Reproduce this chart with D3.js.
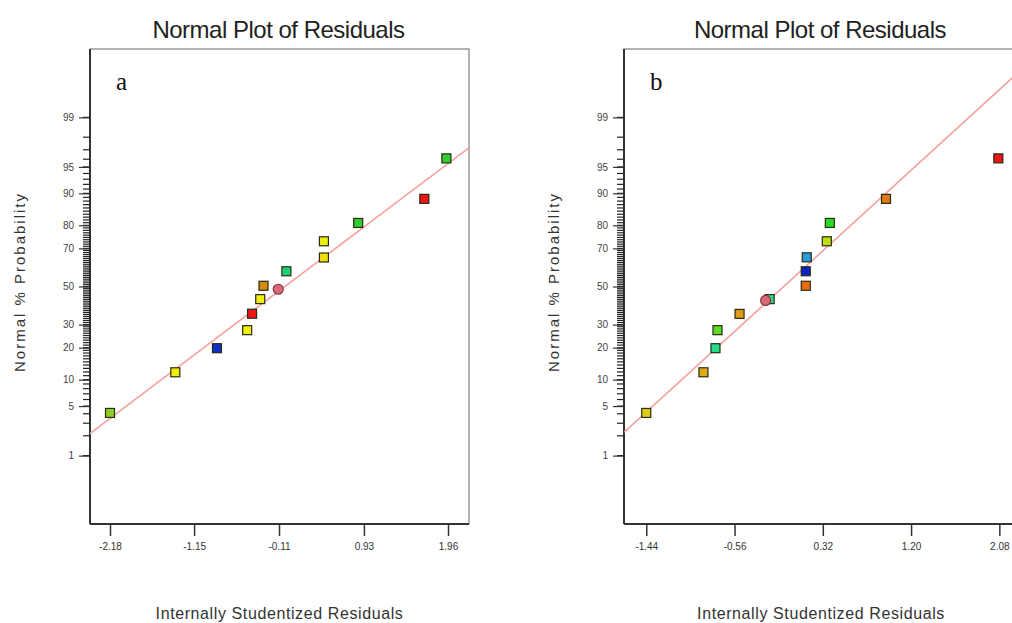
<!DOCTYPE html>
<html>
<head>
<meta charset="utf-8">
<script src="https://cdn.jsdelivr.net/npm/d3@7"></script>
<style>
  body { margin: 0; background: #fff; }
  svg { display: block; }
  text { font-family: "Liberation Sans", Arial, sans-serif; fill: #222; }
</style>
</head>
<body>
<svg id="chart" width="1012" height="623"></svg>
<script>
// residuals (x) and normal % probability (y)
let residA = [1.94, 1.67, 0.86, 0.44, 0.44, -0.02, -0.30, -0.12, -0.34, -0.44, -0.50, -0.87, -1.38, -2.18]
let probA  = [96.1, 88.6, 80.9, 73.3, 65.5, 58.3, 50.4, 48.5, 43.1, 35.4, 27.4, 19.8, 11.9, 4.1]
let colourA = ['#2fcf2f', '#ee1515', '#2fcf2f', '#eeee10', '#eedf10', '#1fcf75', '#d98a10', '#d86a78',
               '#eeee10', '#ee1515', '#eeee10', '#1030c8', '#eeee10', '#8ccf20']
let shapeA = ['s', 's', 's', 's', 's', 's', 's', 'c', 's', 's', 's', 's', 's', 's']

let residB = [2.07, 0.95, 0.39, 0.36, 0.16, 0.15, 0.15, -0.21, -0.25, -0.51, -0.73, -0.75, -0.87, -1.44]
let probB  = [96.1, 88.6, 80.9, 73.3, 65.6, 58.3, 50.4, 43.1, 42.4, 35.3, 27.4, 19.8, 11.9, 4.1]
let colourB = ['#ee1515', '#e07818', '#25dd25', '#bedd15', '#2a9ade', '#1020c8', '#ee6a15', '#25dd8a',
               '#d86a78', '#e09a18', '#5cdd25', '#25dd8a', '#e0aa18', '#ddcc15']
let shapeB = ['s', 's', 's', 's', 's', 's', 's', 's', 'c', 's', 's', 's', 's', 's']

// fitted line end points [residual, %]
let lineA = [[-2.43, 2.14], [2.22, 97.2]]
let lineB = [[-1.66, 2.25], [2.27, 99.84]]

let xTicksA = [-2.18, -1.15, -0.11, 0.93, 1.96]
let xTicksB = [-1.44, -0.56, 0.32, 1.20, 2.08]
let yTicks = [1, 5, 10, 20, 30, 50, 70, 80, 90, 95, 99]

// inverse normal cdf (Acklam)
function probit(p) {
  let a = [-39.69683028665376, 220.9460984245205, -275.9285104469687, 138.3577518672690, -30.66479806614716, 2.506628277459239]
  let b = [-54.47609879822406, 161.5858368580409, -155.6989798598866, 66.80131188771972, -13.28068155288572]
  let c = [-0.007784894002430293, -0.3223964580411365, -2.400758277161838, -2.549732539343734, 4.374664141464968, 2.938163982698783]
  let d = [0.007784695709041462, 0.3224671290700398, 2.445134137142996, 3.754408661907416]
  let q, r
  if (p < 0.02425) {
    q = Math.sqrt(-2 * Math.log(p))
    return (((((c[0]*q+c[1])*q+c[2])*q+c[3])*q+c[4])*q+c[5]) / ((((d[0]*q+d[1])*q+d[2])*q+d[3])*q+1)
  }
  if (p > 1 - 0.02425) {
    q = Math.sqrt(-2 * Math.log(1 - p))
    return -(((((c[0]*q+c[1])*q+c[2])*q+c[3])*q+c[4])*q+c[5]) / ((((d[0]*q+d[1])*q+d[2])*q+d[3])*q+1)
  }
  q = p - 0.5
  r = q * q
  return (((((a[0]*r+a[1])*r+a[2])*r+a[3])*r+a[4])*r+a[5])*q / (((((b[0]*r+b[1])*r+b[2])*r+b[3])*r+b[4])*r+1)
}

let svg = d3.select('#chart')
let plotTop = 49, plotBottom = 524

let zScale = d3.scaleLinear().domain([-3.267, 3.267]).range([plotBottom, plotTop])
let yPos = p => zScale(probit(p / 100))

function panel(opt) {
  let x = d3.scaleLinear().domain(opt.domain).range([opt.left, opt.right])
  let g = svg.append('g')
  let cx = (opt.left + opt.right) / 2

  g.append('text')
    .attr('x', cx - 1).attr('y', 38)
    .attr('text-anchor', 'middle')
    .style('font-size', '24px')
    .style('letter-spacing', '-0.5px')
    .text('Normal Plot of Residuals')

  // frame
  g.append('rect')
    .attr('x', opt.left).attr('y', plotTop)
    .attr('width', opt.right - opt.left).attr('height', plotBottom - plotTop)
    .attr('fill', 'none').attr('stroke', '#666').attr('stroke-width', 1)
  g.append('line')
    .attr('x1', opt.left).attr('x2', opt.left).attr('y1', plotTop).attr('y2', plotBottom)
    .attr('stroke', '#333').attr('stroke-width', 2)
  g.append('line')
    .attr('x1', opt.left).attr('x2', opt.right).attr('y1', plotBottom).attr('y2', plotBottom)
    .attr('stroke', '#333').attr('stroke-width', 2)

  // y axis with minor ticks at every percent
  g.selectAll('.minor')
    .data(d3.range(1, 100))
    .enter().append('line')
    .attr('x1', opt.left - 7).attr('x2', opt.left)
    .attr('y1', d => yPos(d)).attr('y2', d => yPos(d))
    .attr('stroke', '#222').attr('stroke-width', 1.2)

  let yAxis = d3.axisLeft(zScale)
    .tickValues(yTicks.map(p => probit(p / 100)))
    .tickFormat((d, i) => yTicks[i])
    .tickSize(11).tickPadding(5)
  let ya = g.append('g').attr('transform', `translate(${opt.left},0)`).call(yAxis)
  ya.select('.domain').remove()
  ya.selectAll('line').attr('stroke', '#333').attr('stroke-width', 1.2)
  ya.selectAll('text').style('font-size', '10px').style('fill', '#444').attr('font-family', null)

  let xAxis = d3.axisBottom(x).tickValues(opt.ticks)
    .tickFormat(d => d3.format('.2f')(d).replace('\u2212', '-'))
    .tickSize(12).tickPadding(7)
  let xa = g.append('g').attr('transform', `translate(0,${plotBottom})`).call(xAxis)
  xa.select('.domain').remove()
  xa.selectAll('line').attr('stroke', '#333').attr('stroke-width', 1.5)
  xa.selectAll('text').style('font-size', '10px').style('fill', '#333').attr('font-family', null)

  g.append('text')
    .attr('x', cx).attr('y', 619)
    .attr('text-anchor', 'middle')
    .style('font-size', '16px')
    .style('letter-spacing', '0.6px')
    .style('fill', '#333')
    .text('Internally Studentized Residuals')

  g.append('text')
    .attr('transform', `translate(${opt.left - 65},282) rotate(-90)`)
    .attr('text-anchor', 'middle')
    .style('font-size', '15px')
    .style('letter-spacing', '2px')
    .style('fill', '#333')
    .text('Normal % Probability')

  g.append('text')
    .attr('x', opt.left + 26).attr('y', 90)
    .style('font-family', '"Liberation Serif", "DejaVu Serif", serif')
    .style('font-size', '25px')
    .style('fill', '#111')
    .text(opt.label)

  // fitted line, clipped to frame
  let clipId = 'clip' + opt.label
  svg.append('clipPath').attr('id', clipId)
    .append('rect')
    .attr('x', opt.left).attr('y', plotTop)
    .attr('width', opt.right - opt.left).attr('height', plotBottom - plotTop)
  g.append('path')
    .datum(opt.line)
    .attr('clip-path', `url(#${clipId})`)
    .attr('d', d3.line().x(d => x(d[0])).y(d => yPos(d[1])))
    .attr('stroke', '#f4a0a0').attr('stroke-width', 1.6).attr('fill', 'none')

  let pts = opt.resid.map((r, i) => ({ r: r, p: opt.prob[i], c: opt.colour[i], s: opt.shape[i] }))
  g.selectAll('.sq')
    .data(pts.filter(d => d.s === 's'))
    .enter().append('rect')
    .attr('x', d => x(d.r) - 4.5).attr('y', d => yPos(d.p) - 4.5)
    .attr('width', 9).attr('height', 9)
    .attr('fill', d => d.c).attr('stroke', '#2a2a10').attr('stroke-width', 1.2)
  g.selectAll('.ci')
    .data(pts.filter(d => d.s === 'c'))
    .enter().append('circle')
    .attr('cx', d => x(d.r)).attr('cy', d => yPos(d.p))
    .attr('r', 5)
    .attr('fill', d => d.c).attr('stroke', '#8a3040').attr('stroke-width', 1.2)
}

panel({ label: 'a', left: 90, right: 469, domain: [-2.425, 2.217], ticks: xTicksA,
  resid: residA, prob: probA, colour: colourA, shape: shapeA, line: lineA })
panel({ label: 'b', left: 624, right: 1018, domain: [-1.662, 2.266], ticks: xTicksB,
  resid: residB, prob: probB, colour: colourB, shape: shapeB, line: lineB })
</script>
</body>
</html>
